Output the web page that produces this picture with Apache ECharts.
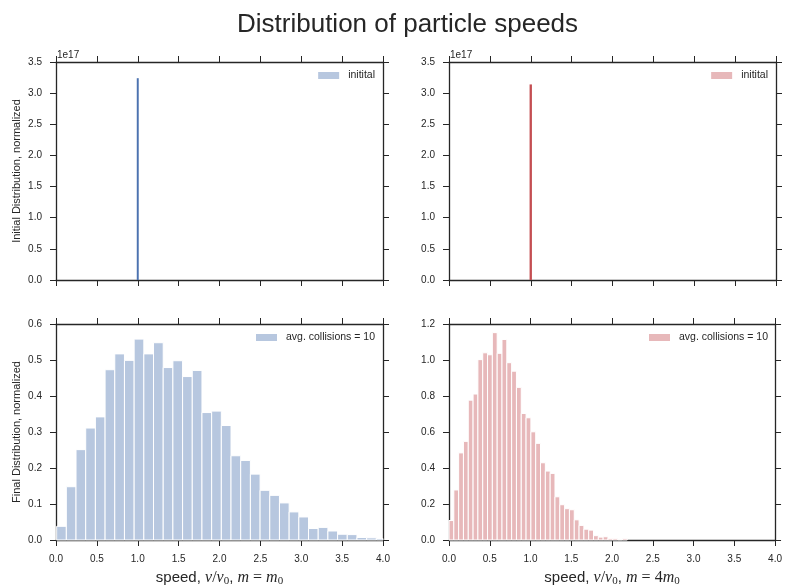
<!DOCTYPE html>
<html>
<head>
<meta charset="utf-8">
<script src="https://cdn.jsdelivr.net/npm/echarts@6/dist/echarts.min.js"></script>
<style>
  html, body { margin: 0; padding: 0; background: #fff; }
  #chart { width: 785px; height: 588px; }
</style>
</head>
<body>
<div id="chart"></div>
<script>
// ---- data ----
const initialSpeed = 1.0
const blueInitial = 3.24e17   // peak of the initial (delta) distribution, m = m0
const redInitial = 3.14e17    // peak of the initial distribution, m = 4 m0
const spikeHalfWidth = 0.012

const blueBinStart = 0.008
const blueBinWidth = 0.1185
const blueFinal = [0.038, 0.148, 0.251, 0.311, 0.342, 0.473, 0.517, 0.499, 0.558, 0.517,
  0.548, 0.479, 0.498, 0.454, 0.471, 0.354, 0.358, 0.318, 0.234, 0.221,
  0.183, 0.138, 0.124, 0.103, 0.078, 0.064, 0.032, 0.035, 0.025, 0.016,
  0.015, 0.007, 0.006, 0.004]

const redBinStart = 0.0
const redBinWidth = 0.0591
const redFinal = [0.108, 0.278, 0.484, 0.548, 0.777, 0.811, 1.002, 1.040, 1.029, 1.152,
  1.037, 1.114, 0.985, 0.938, 0.848, 0.703, 0.679, 0.601, 0.537, 0.429,
  0.383, 0.370, 0.240, 0.196, 0.174, 0.168, 0.112, 0.081, 0.060, 0.055,
  0.024, 0.016, 0.018, 0.009, 0.009, 0.002, 0.009]

const xRange = [0, 4, 0.5]
const yRanges = [[0, 3.5e17, 0.5e17], [0, 3.5e17, 0.5e17], [0, 0.6, 0.1], [0, 1.2, 0.2]]

const legendInitial = 'initital'
const legendFinal = 'avg. collisions = 10'

// seaborn deep palette, hist alpha 0.4 on white
const BLUE = '#4c72b0'
const BLUE_PALE = '#b7c7df'
const RED = '#c44e52'
const RED_PALE = '#e7b8ba'
const INK = '#262626'
const FONT = 'Liberation Sans, Arial, sans-serif'

function binsOf(start, width, heights) {
  return heights.map((h, i) => [start + i * width, start + (i + 1) * width, h])
}

function histItem(fill) {
  return function (params, api) {
    const p0 = api.coord([api.value(0), api.value(2)])
    const p1 = api.coord([api.value(1), 0])
    const shape = echarts.graphic.clipRectByRect(
      { x: p0[0], y: p0[1], width: p1[0] - p0[0], height: p1[1] - p0[1] },
      params.coordSys
    )
    if (!shape) return null
    return {
      type: 'rect',
      shape,
      style: { fill: fill, stroke: fill === BLUE || fill === RED ? null : '#fff', lineWidth: 1 }
    }
  }
}

const grids = [
  { left: 56, top: 62, width: 327, height: 218 },
  { left: 449, top: 62, width: 327, height: 218 },
  { left: 56, top: 324, width: 327, height: 218 },
  { left: 449, top: 324, width: 327, height: 218 }
]

const spine = { show: true, onZero: false, lineStyle: { color: INK, width: 1.3 } }
const tick = { show: true, length: 6, lineStyle: { color: INK, width: 1 } }

const xNameRich = {
  a: { fontFamily: FONT, fontSize: 15, color: INK, lineHeight: 18 },
  i: { fontFamily: 'Liberation Serif, DejaVu Serif, serif', fontStyle: 'italic', fontSize: 16, color: INK, lineHeight: 18 },
  c: { fontFamily: 'Liberation Serif, DejaVu Serif, serif', fontSize: 16, color: INK, lineHeight: 18 },
  s: { fontFamily: 'Liberation Serif, DejaVu Serif, serif', fontSize: 11, color: INK, lineHeight: 7, verticalAlign: 'bottom' }
}
const xNames = [
  '',
  '',
  '{a|speed, }{i|v}{c|/}{i|v}{s|0}{a|, }{i|m}{c| = }{i|m}{s|0}',
  '{a|speed, }{i|v}{c|/}{i|v}{s|0}{a|, }{i|m}{c| = 4}{i|m}{s|0}'
]
const yNames = ['Initial Distribution, normalized', '', 'Final Distribution, normalized', '']

const xAxis = []
const yAxis = []
grids.forEach((g, i) => {
  const showX = i >= 2
  xAxis.push({
    type: 'value', gridIndex: i, position: 'bottom',
    min: xRange[0], max: xRange[1], interval: xRange[2],
    axisLine: spine, axisTick: tick, splitLine: { show: false },
    axisLabel: {
      show: showX, margin: 14, color: INK, fontFamily: FONT, fontSize: 10,
      formatter: v => v.toFixed(1)
    },
    name: xNames[i], nameLocation: 'middle', nameGap: 29,
    nameTextStyle: { rich: xNameRich }
  })
  xAxis.push({
    type: 'value', gridIndex: i, position: 'top',
    min: xRange[0], max: xRange[1], interval: xRange[2],
    axisLine: spine, axisTick: tick, splitLine: { show: false },
    axisLabel: { show: false }
  })
  const yr = yRanges[i]
  const big = i < 2
  yAxis.push({
    type: 'value', gridIndex: i, position: 'left',
    min: yr[0], max: yr[1], interval: yr[2],
    axisLine: spine, axisTick: tick, splitLine: { show: false },
    axisLabel: {
      margin: 14, color: INK, fontFamily: FONT, fontSize: 10,
      formatter: v => (big ? v / 1e17 : v).toFixed(1)
    },
    name: yNames[i], nameLocation: 'middle', nameGap: 34,
    nameTextStyle: { color: INK, fontFamily: FONT, fontSize: 11 }
  })
  yAxis.push({
    type: 'value', gridIndex: i, position: 'right',
    min: yr[0], max: yr[1], interval: yr[2],
    axisLine: spine, axisTick: tick, splitLine: { show: false },
    axisLabel: { show: false }
  })
})

const panels = [
  { name: legendInitial + '|L', pale: BLUE_PALE, fill: BLUE, data: [[initialSpeed - spikeHalfWidth, initialSpeed + spikeHalfWidth, blueInitial]] },
  { name: legendInitial + '|R', pale: RED_PALE, fill: RED, data: [[initialSpeed - spikeHalfWidth * 1.2, initialSpeed + spikeHalfWidth * 1.2, redInitial]] },
  { name: legendFinal + '|L', pale: BLUE_PALE, fill: BLUE_PALE, data: binsOf(blueBinStart, blueBinWidth, blueFinal) },
  { name: legendFinal + '|R', pale: RED_PALE, fill: RED_PALE, data: binsOf(redBinStart, redBinWidth, redFinal) }
]

const series = panels.map((p, i) => ({
  name: p.name,
  type: 'custom',
  xAxisIndex: 2 * i,
  yAxisIndex: 2 * i,
  itemStyle: { color: p.pale },
  renderItem: histItem(p.fill),
  data: p.data,
  silent: true
}))

const legendPos = [
  { right: 410, top: 70 },
  { right: 17, top: 70 },
  { right: 410, top: 332 },
  { right: 17, top: 332 }
]
const legend = panels.map((p, i) => ({
  ...legendPos[i],
  padding: 0,
  selectedMode: false,
  icon: 'rect',
  itemWidth: 21,
  itemHeight: 7,
  itemStyle: { borderWidth: 0 },
  data: [{ name: p.name, itemStyle: { color: p.pale } }],
  formatter: name => name.split('|')[0],
  textStyle: { color: INK, fontFamily: FONT, fontSize: 10.5, padding: [0, 0, 0, 4] }
}))

const chart = echarts.init(document.getElementById('chart'), null, { renderer: 'canvas' })
chart.setOption({
  animation: false,
  backgroundColor: '#fff',
  title: {
    text: 'Distribution of particle speeds',
    left: 232, top: 7,
    textStyle: { color: INK, fontFamily: FONT, fontSize: 26, fontWeight: 'normal' }
  },
  grid: grids,
  xAxis,
  yAxis,
  legend,
  series,
  graphic: [
    { type: 'text', left: 57, top: 50, style: { text: '1e17', fill: INK, font: '10px ' + FONT } },
    { type: 'text', left: 450, top: 50, style: { text: '1e17', fill: INK, font: '10px ' + FONT } }
  ]
})
</script>
</body>
</html>
